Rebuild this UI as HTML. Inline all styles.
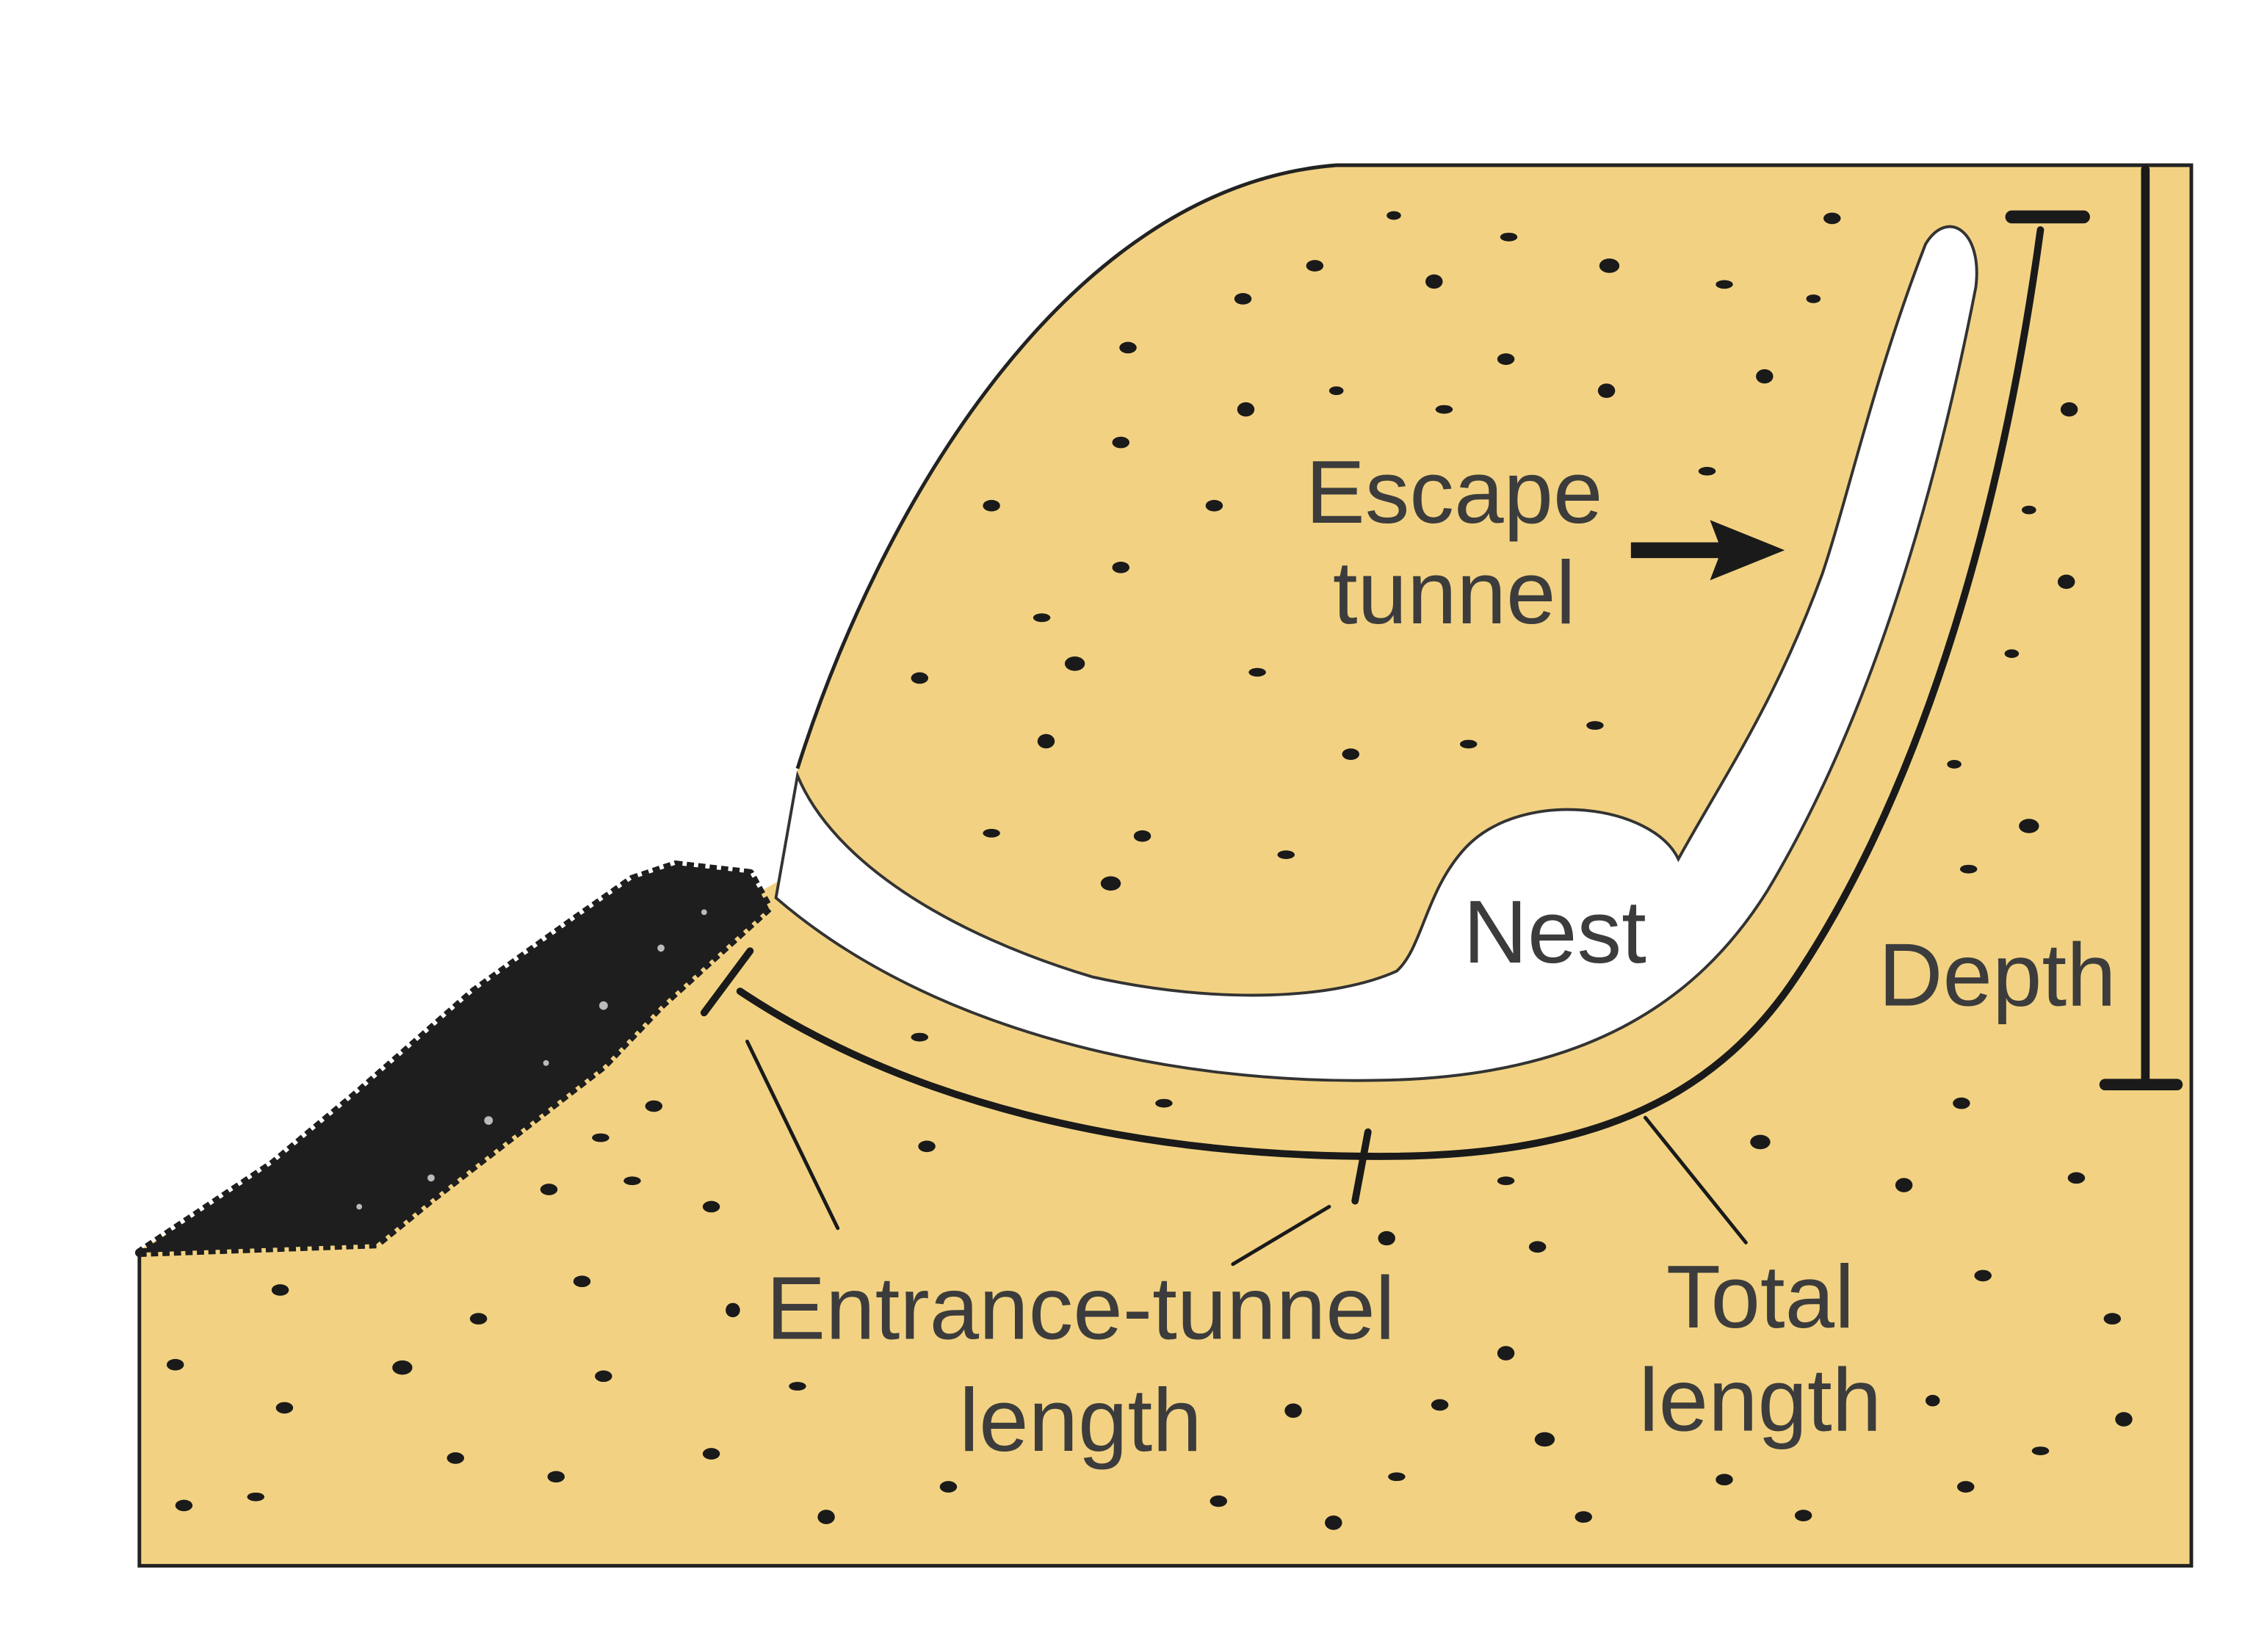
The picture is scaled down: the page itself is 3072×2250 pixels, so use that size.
<!DOCTYPE html>
<html><head><meta charset="utf-8"><style>
html,body{margin:0;padding:0;background:#fff;}
svg{display:block;}
text{font-family:"Liberation Sans",sans-serif;fill:#3c3c3c;}
</style></head><body>
<svg width="3072" height="2250" viewBox="0 0 1570 1150" preserveAspectRatio="none" xmlns="http://www.w3.org/2000/svg">
<rect width="1570" height="1150" fill="#fff"/>
<!-- soil -->
<path d="M97,870 L530,620 L548,610 L555,535 C 610,360 740,130 930,115 L1525,115 L1525,1090 L97,1090 Z" fill="#F2D282"/>
<path d="M555,535 C 610,360 740,130 930,115 L1525,115 L1525,1090 L97,1090 L97,870" fill="none" stroke="#222" stroke-width="2.5"/>
<!-- tunnel -->
<path d="M540,625 C 650,720 820,755 960,752 C 1100,750 1180,700 1230,620 C 1290,520 1340,380 1375,200 C 1380,160 1355,145 1340,170 C 1305,260 1285,350 1268,400 C 1235,490 1200,540 1168,598 C 1150,560 1060,548 1020,590 C 992,620 990,660 972,676 C 930,695 850,700 760,680 C 660,650 580,600 555,540 Z" fill="#fff" stroke="#333" stroke-width="2"/>
<!-- mound -->
<path d="M97,872 L262,866 L300,835 L420,742 L460,700 L535,632 L522,608 L470,602 L440,612 L400,640 L330,690 L250,760 L190,810 L130,850 Z" fill="#1e1e1e" stroke="#1e1e1e" stroke-width="6" stroke-linejoin="round" stroke-dasharray="5 3"/>
<g fill="#bbb"><circle cx="340" cy="780" r="3"/><circle cx="420" cy="700" r="3"/><circle cx="300" cy="820" r="2.5"/><circle cx="460" cy="660" r="2.5"/><circle cx="380" cy="740" r="2"/><circle cx="250" cy="840" r="2"/><circle cx="490" cy="635" r="2"/></g>
<!-- measuring lines -->
<g stroke="#1a1a1a" fill="none" stroke-linecap="round">
<path d="M515,690 C 650,780 820,805 960,805 C 1100,805 1190,770 1250,680 C 1330,560 1390,380 1420,160" stroke-width="5"/>
<line x1="490" y1="705" x2="522" y2="662" stroke-width="5"/>
<line x1="943" y1="836" x2="952" y2="788" stroke-width="5"/>
<line x1="1400" y1="151" x2="1450" y2="151" stroke-width="9"/>
<line x1="1493" y1="118" x2="1493" y2="755" stroke-width="6"/>
<line x1="1465" y1="755" x2="1515" y2="755" stroke-width="8"/>
<line x1="520" y1="725" x2="583" y2="855" stroke-width="2.5"/>
<line x1="925" y1="840" x2="858" y2="880" stroke-width="2.5"/>
<line x1="1145" y1="778" x2="1215" y2="865" stroke-width="2.5"/>
</g>
<!-- arrow -->
<line x1="1135" y1="383" x2="1200" y2="383" stroke="#1a1a1a" stroke-width="11"/>
<polygon points="1190,362 1242,383 1190,404 1198,383" fill="#1a1a1a"/>
<!-- dots -->
<g fill="#1a1a1a">
<ellipse cx="970" cy="150" rx="5" ry="3"/><ellipse cx="1050" cy="165" rx="6" ry="3"/><ellipse cx="1120" cy="185" rx="7" ry="5"/><ellipse cx="1275" cy="152" rx="6" ry="4"/>
<ellipse cx="915" cy="185" rx="6" ry="4"/><ellipse cx="998" cy="196" rx="6" ry="5"/><ellipse cx="1200" cy="198" rx="6" ry="3"/><ellipse cx="1262" cy="208" rx="5" ry="3"/>
<ellipse cx="865" cy="208" rx="6" ry="4"/><ellipse cx="785" cy="242" rx="6" ry="4"/><ellipse cx="1048" cy="250" rx="6" ry="4"/><ellipse cx="1228" cy="262" rx="6" ry="5"/><ellipse cx="1118" cy="272" rx="6" ry="5"/>
<ellipse cx="930" cy="272" rx="5" ry="3"/><ellipse cx="867" cy="285" rx="6" ry="5"/><ellipse cx="1005" cy="285" rx="6" ry="3"/><ellipse cx="1440" cy="285" rx="6" ry="5"/>
<ellipse cx="780" cy="308" rx="6" ry="4"/><ellipse cx="1188" cy="328" rx="6" ry="3"/><ellipse cx="690" cy="352" rx="6" ry="4"/><ellipse cx="845" cy="352" rx="6" ry="4"/><ellipse cx="1412" cy="355" rx="5" ry="3"/>
<ellipse cx="780" cy="395" rx="6" ry="4"/><ellipse cx="1438" cy="405" rx="6" ry="5"/><ellipse cx="725" cy="430" rx="6" ry="3"/><ellipse cx="748" cy="462" rx="7" ry="5"/><ellipse cx="875" cy="468" rx="6" ry="3"/>
<ellipse cx="640" cy="472" rx="6" ry="4"/><ellipse cx="1400" cy="455" rx="5" ry="3"/><ellipse cx="1110" cy="505" rx="6" ry="3"/><ellipse cx="728" cy="516" rx="6" ry="5"/><ellipse cx="1022" cy="518" rx="6" ry="3"/>
<ellipse cx="940" cy="525" rx="6" ry="4"/><ellipse cx="1360" cy="532" rx="5" ry="3"/><ellipse cx="1412" cy="575" rx="7" ry="5"/><ellipse cx="690" cy="580" rx="6" ry="3"/><ellipse cx="795" cy="582" rx="6" ry="4"/>
<ellipse cx="895" cy="595" rx="6" ry="3"/><ellipse cx="1370" cy="605" rx="6" ry="3"/><ellipse cx="773" cy="615" rx="7" ry="5"/><ellipse cx="640" cy="722" rx="6" ry="3"/>
<ellipse cx="455" cy="770" rx="6" ry="4"/><ellipse cx="1365" cy="768" rx="6" ry="4"/><ellipse cx="810" cy="768" rx="6" ry="3"/><ellipse cx="645" cy="798" rx="6" ry="4"/>
<ellipse cx="1225" cy="795" rx="7" ry="5"/><ellipse cx="418" cy="792" rx="6" ry="3"/><ellipse cx="382" cy="828" rx="6" ry="4"/><ellipse cx="440" cy="822" rx="6" ry="3"/><ellipse cx="1325" cy="825" rx="6" ry="5"/><ellipse cx="1445" cy="820" rx="6" ry="4"/>
<ellipse cx="1048" cy="822" rx="6" ry="3"/><ellipse cx="495" cy="840" rx="6" ry="4"/><ellipse cx="965" cy="862" rx="6" ry="5"/><ellipse cx="1070" cy="868" rx="6" ry="4"/>
<ellipse cx="195" cy="898" rx="6" ry="4"/><ellipse cx="405" cy="892" rx="6" ry="4"/><ellipse cx="1380" cy="888" rx="6" ry="4"/><ellipse cx="510" cy="912" rx="5" ry="5"/>
<ellipse cx="1470" cy="918" rx="6" ry="4"/><ellipse cx="333" cy="918" rx="6" ry="4"/><ellipse cx="1048" cy="942" rx="6" ry="5"/><ellipse cx="122" cy="950" rx="6" ry="4"/><ellipse cx="280" cy="952" rx="7" ry="5"/>
<ellipse cx="420" cy="958" rx="6" ry="4"/><ellipse cx="555" cy="965" rx="6" ry="3"/><ellipse cx="900" cy="982" rx="6" ry="5"/><ellipse cx="1002" cy="978" rx="6" ry="4"/><ellipse cx="1345" cy="975" rx="5" ry="4"/>
<ellipse cx="198" cy="980" rx="6" ry="4"/><ellipse cx="1478" cy="988" rx="6" ry="5"/><ellipse cx="1075" cy="1002" rx="7" ry="5"/><ellipse cx="317" cy="1015" rx="6" ry="4"/><ellipse cx="495" cy="1012" rx="6" ry="4"/>
<ellipse cx="1420" cy="1010" rx="6" ry="3"/><ellipse cx="387" cy="1028" rx="6" ry="4"/><ellipse cx="972" cy="1028" rx="6" ry="3"/><ellipse cx="1200" cy="1030" rx="6" ry="4"/><ellipse cx="1368" cy="1035" rx="6" ry="4"/>
<ellipse cx="660" cy="1035" rx="6" ry="4"/><ellipse cx="848" cy="1045" rx="6" ry="4"/><ellipse cx="128" cy="1048" rx="6" ry="4"/><ellipse cx="178" cy="1042" rx="6" ry="3"/>
<ellipse cx="575" cy="1056" rx="6" ry="5"/><ellipse cx="928" cy="1060" rx="6" ry="5"/><ellipse cx="1102" cy="1056" rx="6" ry="4"/><ellipse cx="1255" cy="1055" rx="6" ry="4"/>
</g>
<!-- labels -->
<g font-size="62" text-anchor="middle" textLength="">
<text x="1012" y="364">Escape</text>
<text x="1012" y="434">tunnel</text>
<text x="1082" y="670">Nest</text>
<text x="1390" y="700">Depth</text>
<text x="752" y="932">Entrance-tunnel</text>
<text x="752" y="1010">length</text>
<text x="1225" y="924">Total</text>
<text x="1225" y="996">length</text>
</g>
</svg>
</body></html>
